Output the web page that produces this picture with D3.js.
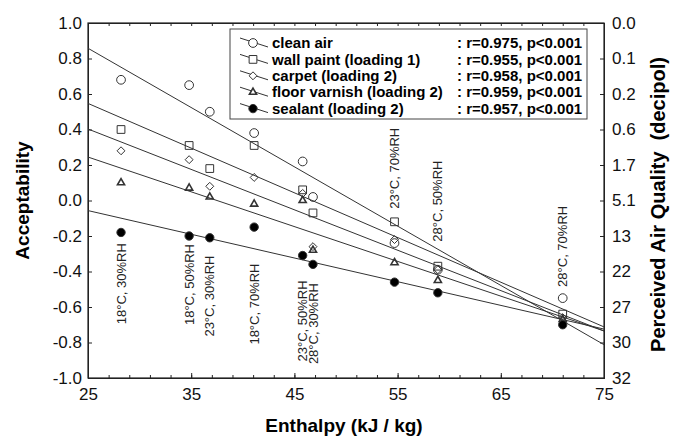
<!DOCTYPE html>
<html>
<head>
<meta charset="utf-8">
<script src="https://cdn.jsdelivr.net/npm/d3@7/dist/d3.min.js"></script>
<style>
  body { margin: 0; background: #fff; }
  svg { font-family: "Liberation Sans", Arial, sans-serif; }
</style>
</head>
<body>
<div id="chart"></div>
<script>
// enthalpy of each climate condition (kJ/kg)
const enthalpy = [28.2, 34.8, 36.8, 41.1, 45.8, 46.8, 54.7, 58.9, 71.0]
const conditions = ["18°C, 30%RH", "18°C, 50%RH", "23°C, 30%RH", "18°C, 70%RH", "23°C, 50%RH",
  "28°C, 30%RH", "23°C, 70%RH", "28°C, 50%RH", "28°C, 70%RH"]
// acceptability value where the top of each rotated condition label sits
const conditionLabelTop = [-0.24, -0.245, -0.31, -0.355, -0.45, -0.465, 0.41, 0.225, -0.03]

const seriesNames = ["clean air", "wall paint (loading 1)", "carpet (loading 2)", "floor varnish (loading 2)", "sealant (loading 2)"]
const seriesStats = [": r=0.975, p<0.001", ": r=0.955, p<0.001", ": r=0.958, p<0.001", ": r=0.959, p<0.001", ": r=0.957, p<0.001"]
const cleanAir     = [0.68, 0.65, 0.50, 0.38, 0.22, 0.02, -0.24, -0.39, -0.55]
const wallPaint    = [0.40, 0.31, 0.18, 0.31, 0.06, -0.07, -0.12, -0.37, -0.64]
const carpet       = [0.28, 0.23, 0.08, 0.13, 0.04, -0.26, -0.22, -0.39, -0.66]
const floorVarnish = [0.10, 0.07, 0.02, -0.02, 0.00, -0.28, -0.35, -0.45, -0.67]
const sealant      = [-0.18, -0.20, -0.21, -0.15, -0.31, -0.36, -0.46, -0.52, -0.70]

const xTicks = [25, 35, 45, 55, 65, 75]
const yTicks = [-1.0, -0.8, -0.6, -0.4, -0.2, 0.0, 0.2, 0.4, 0.6, 0.8, 1.0]
const decipolLabels = ["32", "30", "27", "22", "13", "5.1", "1.7", "0.6", "0.2", "0.1", "0.0"]

const W = 673, H = 438
const MARGIN = {left: 88, right: 69, top: 23, bottom: 60}

const svg = d3.select("#chart").append("svg").attr("width", W).attr("height", H)

const x = d3.scaleLinear().domain([25, 75]).range([MARGIN.left, W - MARGIN.right])
const y = d3.scaleLinear().domain([-1, 1]).range([H - MARGIN.bottom, MARGIN.top])

const fmt = d => d.toFixed(1)

// frame lines
svg.append("rect")
  .attr("x", x(25)).attr("y", y(1))
  .attr("width", x(75) - x(25)).attr("height", y(-1) - y(1))
  .attr("fill", "none").attr("stroke", "#222").attr("stroke-width", 1.2)

// axes with inward ticks
const minorX = d3.range(25, 75.1, 2)
svg.append("g").attr("transform", `translate(0,${y(-1)})`)
  .call(d3.axisBottom(x).tickValues(minorX).tickSize(-3).tickFormat(""))
svg.append("g").attr("transform", `translate(0,${y(1)})`)
  .call(d3.axisTop(x).tickValues(minorX).tickSize(-3).tickFormat(""))

const bottomAxis = svg.append("g").attr("transform", `translate(0,${y(-1)})`)
  .call(d3.axisBottom(x).tickValues(xTicks).tickSize(-5).tickPadding(9).tickFormat(d3.format("d")))
bottomAxis.selectAll("text").attr("font-size", 17).attr("fill", "#111").attr("dy", "0.75em")

const leftAxis = svg.append("g").attr("transform", `translate(${x(25)},0)`)
  .call(d3.axisLeft(y).tickValues(yTicks).tickSize(-4).tickPadding(6).tickFormat(fmt))
leftAxis.selectAll("text").attr("font-size", 17).attr("fill", "#111")

const rightAxis = svg.append("g").attr("transform", `translate(${x(75)},0)`)
  .call(d3.axisRight(y).tickValues(yTicks).tickSize(-4).tickPadding(8)
    .tickFormat((d, i) => decipolLabels[i]))
rightAxis.selectAll("text").attr("font-size", 17).attr("fill", "#111")

svg.selectAll(".domain").attr("stroke", "#222")
svg.selectAll(".tick line").attr("stroke", "#222")

// axis titles
svg.append("text")
  .attr("x", (x(25) + x(75)) / 2 - 2).attr("y", 432)
  .attr("text-anchor", "middle").attr("font-size", 19).attr("font-weight", "bold")
  .text("Enthalpy (kJ / kg)")
svg.append("text")
  .attr("transform", `translate(29,${y(0)}) rotate(-90)`)
  .attr("text-anchor", "middle").attr("font-size", 19).attr("font-weight", "bold")
  .text("Acceptability")
svg.append("text")
  .attr("transform", `translate(665,${y(0) + 4}) rotate(-90)`)
  .attr("text-anchor", "middle").attr("font-size", 20).attr("font-weight", "bold")
  .attr("xml:space", "preserve")
  .text("Perceived Air Quality  (decipol)")

// series definitions
const series = [
  {values: cleanAir, symbol: d3.symbolCircle, size: 60, fill: "none"},
  {values: wallPaint, symbol: d3.symbolSquare, size: 60, fill: "none"},
  {values: carpet, symbol: d3.symbolDiamond2, size: 40, fill: "none"},
  {values: floorVarnish, symbol: d3.symbolTriangle, size: 22, fill: "none", width: 1.6},
  {values: sealant, symbol: d3.symbolCircle, size: 55, fill: "#000"}
]

// least squares fit of each series
function fit(values) {
  const mx = d3.mean(enthalpy), my = d3.mean(values)
  const sxy = d3.sum(enthalpy, (e, i) => (e - mx) * (values[i] - my))
  const sxx = d3.sum(enthalpy, e => (e - mx) * (e - mx))
  const b = sxy / sxx
  return e => my + b * (e - mx)
}

svg.append("clipPath").attr("id", "plotClip")
  .append("rect").attr("x", x(25)).attr("y", y(1))
  .attr("width", x(75) - x(25)).attr("height", y(-1) - y(1))

const plot = svg.append("g").attr("clip-path", "url(#plotClip)")

series.forEach(s => {
  const f = fit(s.values)
  plot.append("line")
    .attr("x1", x(25)).attr("y1", y(f(25)))
    .attr("x2", x(75)).attr("y2", y(f(75)))
    .attr("stroke", "#333").attr("stroke-width", 1)
})

// condition labels
svg.append("g").selectAll("text")
  .data(conditions)
  .join("text")
  .attr("transform", (d, i) => `translate(${x(enthalpy[i])},${y(conditionLabelTop[i])}) rotate(-90)`)
  .attr("text-anchor", "end").attr("dy", "0.35em")
  .attr("font-size", 13).attr("fill", "#222")
  .text(d => d)

// points
series.forEach(s => {
  svg.append("g").selectAll("path")
    .data(s.values)
    .join("path")
    .attr("transform", (d, i) => `translate(${x(enthalpy[i])},${y(d)})`)
    .attr("d", d3.symbol(s.symbol, s.size))
    .attr("fill", s.fill === "none" ? "#fff" : s.fill)
    .attr("fill-opacity", s.fill === "none" ? 0 : 1)
    .attr("stroke", "#333").attr("stroke-width", s.width || 1)
})

// legend
const legend = svg.append("g")
legend.append("rect")
  .attr("x", 230).attr("y", 29).attr("width", 357).attr("height", 90)
  .attr("fill", "#fff").attr("stroke", "#444").attr("stroke-width", 1)

const legendRows = legend.selectAll("g.row")
  .data(seriesNames)
  .join("g").attr("class", "row")
  .attr("transform", (d, i) => `translate(0,${43 + i * 16.4})`)

legendRows.append("line")
  .attr("x1", 240).attr("y1", -5).attr("x2", 268).attr("y2", 4)
  .attr("stroke", "#333").attr("stroke-width", 1)
legendRows.append("path")
  .attr("transform", "translate(253,0)")
  .attr("d", (d, i) => d3.symbol(series[i].symbol, series[i].size)())
  .attr("fill", (d, i) => series[i].fill === "none" ? "#fff" : series[i].fill)
  .attr("stroke", "#333").attr("stroke-width", (d, i) => series[i].width || 1)
legendRows.append("text")
  .attr("x", 272).attr("dy", "0.35em")
  .attr("font-size", 15).attr("font-weight", "bold")
  .text(d => d)
legendRows.append("text")
  .attr("x", 457).attr("dy", "0.35em")
  .attr("font-size", 15).attr("font-weight", "bold")
  .text((d, i) => seriesStats[i])
</script>
</body>
</html>
